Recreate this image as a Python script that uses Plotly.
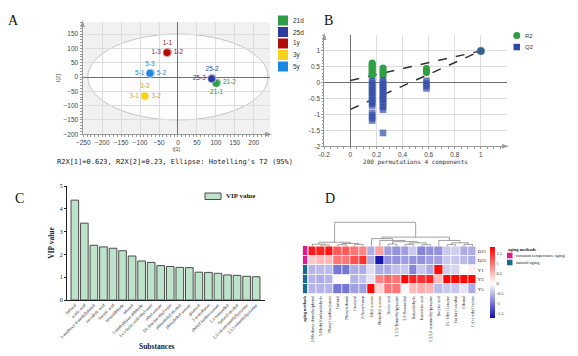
import plotly.graph_objects as go

W, H = 578, 356
def fx(p): return p / W
def fy(p): return 1 - p / H

SANS = "Liberation Sans"
SERIF = "Liberation Serif"
MONO = "DejaVu Sans Mono"

# ---------------- Panel A : PCA scores ----------------
pca_groups = ["21d", "25d", "1y", "3y", "5y"]
pca_colors = ["#2e9e48", "#2d3c9c", "#b00c0c", "#f5d31a", "#1c86e3"]
pca_text_colors = ["#3a8f4e", "#3a4690", "#a01818", "#c9a818", "#2a86d0"]
pca_labels = [["21-1", "21-2", "21-3"], ["25-1", "25-2", "25-3"], ["1-1", "1-2", "1-3"],
              ["3-1", "3-2", "3-3"], ["5-1", "5-2", "5-3"]]
pca_t1 = [[102, 103, 101], [91, 90, 89], [-28, -27, -29], [-87, -86, -88], [-73, -72, -74]]
pca_t2 = [[-21, -20, -22], [-5, -4, -6], [86, 86, 85], [-67, -67, -66], [14, 14, 13]]
pca_textpos = [["bottom center", "middle right", "middle left"],
               ["middle right", "top center", "middle left"],
               ["top center", "middle right", "middle left"],
               ["middle left", "middle right", "top center"],
               ["middle left", "middle right", "top center"]]
pca_hidden = ["21-3", "25-1"]
ellipse_a, ellipse_b = 238, 150
pca_ticks_x = [-250, -200, -150, -100, -50, 0, 50, 100, 150, 200]
pca_ticks_y = [-200, -150, -100, -50, 0, 50, 100, 150]

# ---------------- Panel B : permutation test ----------------
r2_x = [0.167] * 11 + [0.25] * 5 + [0.583] * 3 + [1.0]
r2_y = [0.62, 0.58, 0.54, 0.50, 0.46, 0.42, 0.38, 0.34, 0.30, 0.26, 0.22,
        0.46, 0.40, 0.34, 0.28, 0.23,
        0.45, 0.38, 0.32,
        1.0]
q2_x = [0.167] * 18 + [0.25] * 16 + [0.583] * 4 + [1.0]
q2_y = [0.06, 0.0, -0.06, -0.12, -0.18, -0.24, -0.30, -0.36, -0.42, -0.48, -0.54, -0.60, -0.66, -0.72,
        -0.95, -1.03, -1.11, -1.19,
        0.08, 0.02, -0.04, -0.10, -0.16, -0.22, -0.28, -0.34, -0.40, -0.46, -0.52, -0.60, -0.68, -0.76, -0.85,
        -1.58,
        0.06, -0.02, -0.10, -0.18,
        1.0]
r2_intercept, q2_intercept = 0.07, -0.84
perm_ticks_x = [-0.2, 0, 0.2, 0.4, 0.6, 0.8, 1]
perm_ticks_y = [-2, -1.5, -1, -0.5, 0, 0.5, 1]

# ---------------- Panel C : VIP values ----------------
vip_names = ["furfural", "acetic acid", "2-methoxy-4-methylphenol", "isovaleric acid", "butyric acid",
             "benzaldehyde", "ethanol", "5-methylfuran aldehyde", "L(-)-lactic acid ethyl ester",
             "ethyl acetate", "DL-leucine ethyl ester", "phenylethyl alcohol", "phenylethyl acetate",
             "guaiacol", "2-acetylfuran", "phenyl isothiocyanate", "2,3-butanediol", "furfuryl alcohol",
             "2,3,5,6-tetramethylpyrazine", "2,3,5-trimethylpyrazine"]
vip_values = [4.38, 3.37, 2.40, 2.33, 2.27, 2.16, 1.93, 1.71, 1.65, 1.51, 1.47, 1.43, 1.42,
              1.22, 1.21, 1.17, 1.10, 1.08, 1.04, 1.02]

# ---------------- Panel D : heatmap ----------------
hm_cols = ["2-Methoxy-4-methylphenol", "5-Methylfurfuraldehyde", "Phenyl isothiocyanate", "Furfural",
           "Phenylethanol", "Guaiacol", "2-Acetylfuran", "Ethyl acetate", "Phenethyl acetate",
           "Acetic acid", "2,3,5-Trimethylpyrazine", "2,3-Butanediol", "Benzaldehyde", "Isovaleric acid",
           "2,3,5,6-tetramethylpyrazine", "Butyric acid", "DL-Ethyl Leucine", "Furfuryl alcohol",
           "Ethanol", "L-(+)-ethyl lactate"]
hm_rows = ["D21", "D25", "Y1", "Y3", "Y5"]
hm_D21 = [1.7, 1.6, 1.7, 1.2, 1.2, 1.0, 0.9, -0.6, 0.7, -0.7, -0.8, -0.7, -0.4, -0.9, -0.8, -0.8, -0.4, -0.35, -0.6, -0.6]
hm_D25 = [0.4, 0.5, 0.5, 1.0, 1.0, 1.3, 1.5, -0.6, -1.7, -0.8, -0.8, -0.7, -0.8, -0.8, -0.7, -0.7, -0.4, -0.4, -0.5, -0.6]
hm_Y1 = [-0.55, -0.5, -0.5, -1.0, -1.0, -0.6, -0.6, -0.25, -0.6, -0.6, -0.45, -0.4, -0.9, -0.4, -0.6, 1.75, -0.35, -0.3, 0.0, 0.1]
hm_Y3 = [-0.55, -0.6, -0.55, 0.05, 0.0, -0.55, -0.45, -0.2, 0.9, 1.1, 1.0, 1.8, 1.6, 1.5, 1.6, 0.5, 1.8, 1.8, 1.8, 1.8]
hm_Y5 = [-0.55, -0.55, -0.55, -1.0, -1.0, -0.7, -0.7, 1.8, 0.3, 1.0, 1.0, 0.05, 0.5, 0.6, 0.55, -0.5, -0.4, -0.4, -0.2, -0.6]
hm_groups = ["constant temperature aging", "constant temperature aging", "natural aging", "natural aging", "natural aging"]
group_names = ["constant temperature aging", "natural aging"]
group_colors = ["#e6178d", "#1a6a8c"]
cb_ticks = [-1.5, -1, -0.5, 0, 0.5, 1, 1.5]
# column dendrogram merges: (left node, right node, height); leaves 0..19, new nodes 20..
dendro_merges = [(1, 2, 0.25), (0, 20, 0.4), (3, 4, 0.3), (5, 6, 0.35), (22, 23, 0.5), (21, 24, 0.7),
                 (9, 10, 0.4), (11, 12, 0.35), (13, 14, 0.3), (27, 28, 0.6), (26, 29, 0.8), (8, 30, 1.0),
                 (7, 31, 1.3), (16, 17, 0.3), (18, 19, 0.35), (33, 34, 0.6), (15, 35, 1.0), (32, 36, 1.55),
                 (25, 37, 4.0)]

fig = go.Figure()

# ---- A traces
for gi, g in enumerate(pca_groups):
    texts = [lab if lab not in pca_hidden else "" for lab in pca_labels[gi]]
    fig.add_trace(go.Scatter(
        x=pca_t1[gi], y=pca_t2[gi], mode="markers+text", text=texts,
        textposition=pca_textpos[gi], name=g,
        textfont=dict(family=SANS, size=6.5, color=pca_text_colors[gi]),
        marker=dict(size=8, color=pca_colors[gi], line=dict(width=0.5, color="white")),
        xaxis="x", yaxis="y", showlegend=False, cliponaxis=False))

# ---- B traces
fig.add_trace(go.Scatter(x=[0, 1], y=[r2_intercept, r2_y[-1]], mode="lines",
                         line=dict(color="#333333", width=1.5, dash="dash"),
                         xaxis="x2", yaxis="y2", showlegend=False))
fig.add_trace(go.Scatter(x=[0, 1], y=[q2_intercept, q2_y[-1]], mode="lines",
                         line=dict(color="#333333", width=1.5, dash="dash"),
                         xaxis="x2", yaxis="y2", showlegend=False))
fig.add_trace(go.Scatter(x=r2_x, y=r2_y, mode="markers", name="R2",
                         marker=dict(size=7, color="#2ea043", symbol="circle", line=dict(width=0)),
                         xaxis="x2", yaxis="y2", showlegend=False))
q2_symbols = ["square"] * (len(q2_y) - 1) + ["circle"]
q2_sizes = [6.5] * (len(q2_y) - 1) + [8]
fig.add_trace(go.Scatter(x=q2_x, y=q2_y, mode="markers", name="Q2",
                         marker=dict(size=q2_sizes, color="#2d4aa8", symbol=q2_symbols,
                                     line=dict(width=0.3, color="#8090d0")),
                         xaxis="x2", yaxis="y2", showlegend=False))

# ---- C bars
fig.add_trace(go.Bar(x=vip_names, y=vip_values, name="VIP value",
                     marker=dict(color="#bde3cb", line=dict(color="#4d4d4d", width=1)),
                     xaxis="x3", yaxis="y3", showlegend=False))

# ---- D heatmap
z = [hm_D21, hm_D25, hm_Y1, hm_Y3, hm_Y5]
fig.add_trace(go.Heatmap(
    z=z, x=hm_cols, y=hm_rows, xaxis="x4", yaxis="y4", xgap=0.8, ygap=0.8,
    zmin=-1.75, zmax=1.85,
    colorscale=[[0, "#1010b4"], [1.75 / 3.6, "#ffffff"], [1, "#ff0000"]],
    colorbar=dict(x=fx(489.5), xanchor="left", y=fy(247), yanchor="top", len=71 / H,
                  lenmode="fraction", thickness=5, outlinewidth=0, xpad=0, ypad=0,
                  tickvals=cb_ticks, ticktext=[f"{v:g}" for v in cb_ticks], ticks="",
                  tickfont=dict(family=SERIF, size=4.5, color="#333"))))
grp_index = [group_names.index(g) for g in hm_groups]
fig.add_trace(go.Heatmap(
    z=[[v] for v in grp_index], x=["<b>aging methods</b>"], y=hm_rows, xaxis="x5", yaxis="y5",
    zmin=0, zmax=1, ygap=0.8,
    colorscale=[[0, group_colors[0]], [0.5, group_colors[0]], [0.5, group_colors[1]], [1, group_colors[1]]],
    showscale=False))

# dendrogram
node_x = {i: float(i) for i in range(len(hm_cols))}
node_h = {i: 0.0 for i in range(len(hm_cols))}
dx, dy = [], []
for k, (l, r, h) in enumerate(dendro_merges):
    nid = len(hm_cols) + k
    dx += [node_x[l], node_x[l], node_x[r], node_x[r], None]
    dy += [node_h[l], h, h, node_h[r], None]
    node_x[nid] = (node_x[l] + node_x[r]) / 2
    node_h[nid] = h
fig.add_trace(go.Scatter(x=dx, y=dy, mode="lines", line=dict(color="#8a8a8a", width=0.8),
                         xaxis="x6", yaxis="y6", showlegend=False, hoverinfo="skip"))

# ---- axes
grid = "#dddddd"
axA = dict(showline=True, linecolor="#9a9a9a", linewidth=1, ticks="outside", ticklen=2,
           tickcolor="#9a9a9a", tickfont=dict(family=SANS, size=6.5, color="#444"),
           showgrid=True, gridcolor=grid, gridwidth=0.6, zeroline=True, zerolinecolor="#707070",
           zerolinewidth=1, mirror=False, automargin=False)
plain = dict(automargin=False, zeroline=False, showgrid=False)
fig.update_layout(
    template="none",
    xaxis=dict(axA, domain=[fx(82.5), fx(270)], range=[-252, 243], tickvals=pca_ticks_x,
               anchor="y", minor=dict(dtick=10, ticklen=1.5, tickcolor="#9a9a9a", ticks="outside", showgrid=False),
               title=dict(text="t[1]", font=dict(family=SANS, size=5.5, color="#444"), standoff=1)),
    yaxis=dict(axA, domain=[fy(134.3), fy(22)], range=[-200, 192], tickvals=pca_ticks_y,
               anchor="x", minor=dict(dtick=10, ticklen=1.5, tickcolor="#9a9a9a", ticks="outside", showgrid=False),
               title=dict(text="t[2]", font=dict(family=SANS, size=5.5, color="#444"), standoff=2)),
    xaxis2=dict(axA, domain=[fx(324.3), fx(506.7)], range=[-0.2, 1.198], tickvals=perm_ticks_x,
                ticktext=[f"{v:g}" for v in perm_ticks_x], anchor="y2",
                minor=dict(dtick=0.05, ticklen=1.5, tickcolor="#9a9a9a", ticks="outside", showgrid=False),
                title=dict(text="200 permutations 4 components", font=dict(family=MONO, size=6, color="#333"), standoff=1)),
    yaxis2=dict(axA, domain=[fy(146.3), fy(35)], range=[-2, 1.5], tickvals=perm_ticks_y,
                ticktext=[f"{v:g}" for v in perm_ticks_y], anchor="x2",
                minor=dict(dtick=0.1, ticklen=1.5, tickcolor="#9a9a9a", ticks="outside", showgrid=False)),
    xaxis3=dict(plain, domain=[fx(67), fx(265)], range=[-0.82, 19.93], anchor="y3", showline=True,
                linecolor="#222", linewidth=1, ticks="", tickangle=-45,
                tickfont=dict(family=SERIF, size=4.3, color="#222")),
    yaxis3=dict(plain, domain=[fy(300), fy(186)], range=[0, 5], anchor="x3", showline=True, linecolor="#222",
                linewidth=1, ticks="outside", ticklen=2, tickcolor="#222", dtick=1,
                tickfont=dict(family=SERIF, size=6, color="#222"),
                title=dict(text="<b>VIP value</b>", font=dict(family=SERIF, size=7.5, color="#222"), standoff=4)),
    xaxis4=dict(plain, domain=[fx(308.3), fx(476.7)], anchor="y4", tickangle=-90, ticks="",
                tickfont=dict(family=SERIF, size=4.2, color="#222"), showline=False),
    yaxis4=dict(plain, domain=[fy(294), fy(246)], anchor="x4", side="right", autorange="reversed", ticks="",
                tickfont=dict(family=SERIF, size=5, color="#222"), showline=False),
    xaxis5=dict(plain, domain=[fx(302.7), fx(307.3)], anchor="y5", tickangle=-90, ticks="",
                tickfont=dict(family=SERIF, size=4.2, color="#222"), showline=False),
    yaxis5=dict(plain, domain=[fy(294), fy(246)], anchor="x5", autorange="reversed", showticklabels=False,
                ticks="", showline=False),
    xaxis6=dict(plain, domain=[fx(308.3), fx(476.7)], range=[-0.5, 19.5], anchor="y6", visible=False),
    yaxis6=dict(plain, domain=[fy(246.5), fy(220.5)], range=[0, 4.3], anchor="x6", visible=False),
    bargap=0.2,
    width=W, height=H, margin=dict(l=0, r=0, t=0, b=0, autoexpand=False),
    paper_bgcolor="white", plot_bgcolor="white", showlegend=False,
)

shapes = []
# A background and ellipse
shapes.append(dict(type="rect", xref="x domain", yref="y domain", x0=0, x1=1, y0=0, y1=1,
                   fillcolor="#f1f1f1", line=dict(width=0), layer="below"))
shapes.append(dict(type="circle", xref="x", yref="y", x0=-ellipse_a, x1=ellipse_a, y0=-ellipse_b, y1=ellipse_b,
                   fillcolor="rgba(255,255,255,0.85)", line=dict(color="#c4c4c4", width=1), layer="below"))
# axis arrowheads
def arrow_right(tx, ty):
    return dict(type="path", xref="paper", yref="paper", fillcolor="#9a9a9a", line=dict(width=0),
                path=f"M {fx(tx)} {fy(ty)} L {fx(tx-7)} {fy(ty-2.2)} L {fx(tx-7)} {fy(ty+2.2)} Z")
def arrow_up(tx, ty):
    return dict(type="path", xref="paper", yref="paper", fillcolor="#9a9a9a", line=dict(width=0),
                path=f"M {fx(tx)} {fy(ty)} L {fx(tx-2.2)} {fy(ty+7)} L {fx(tx+2.2)} {fy(ty+7)} Z")
shapes += [arrow_right(272, 134.3), arrow_up(82.5, 20), arrow_right(509, 146.3), arrow_up(324.3, 33)]

# legend A swatches
legA_y = [20.5, 32, 43.5, 55, 66.5]
for c, yy in zip(pca_colors, legA_y):
    shapes.append(dict(type="rect", xref="paper", yref="paper", x0=fx(278), x1=fx(288),
                       y0=fy(yy + 5), y1=fy(yy - 5), fillcolor=c, line=dict(width=0)))
# legend B
shapes.append(dict(type="circle", xref="paper", yref="paper", x0=fx(513.3), x1=fx(520.3),
                   y0=fy(39), y1=fy(32), fillcolor="#2ea043", line=dict(width=0)))
shapes.append(dict(type="rect", xref="paper", yref="paper", x0=fx(513.5), x1=fx(520),
                   y0=fy(50.3), y1=fy(43.8), fillcolor="#2d4aa8", line=dict(width=0)))
# legend C
shapes.append(dict(type="rect", xref="paper", yref="paper", x0=fx(205), x1=fx(221),
                   y0=fy(199.5), y1=fy(193), fillcolor="#bde3cb", line=dict(color="#4d4d4d", width=1)))
# legend D
for c, yy in zip(group_colors, [255.5, 262.5]):
    shapes.append(dict(type="rect", xref="paper", yref="paper", x0=fx(507), x1=fx(512.5),
                       y0=fy(yy + 2.8), y1=fy(yy - 2.8), fillcolor=c, line=dict(width=0)))
fig.update_layout(shapes=shapes)

ann = []
def txt(x, y, s, size, family, color="#222", xanchor="center", angle=0):
    ann.append(dict(x=fx(x), y=fy(y), xref="paper", yref="paper", text=s, showarrow=False,
                    font=dict(family=family, size=size, color=color), xanchor=xanchor,
                    yanchor="middle", textangle=angle))
# panel letters
txt(13, 20, "A", 14, SERIF, "#111")
txt(328, 20, "B", 14, SERIF, "#111")
txt(19, 198, "C", 14, SERIF, "#111")
txt(330, 198, "D", 14, SERIF, "#111")
txt(55, 161.5, "R2X[1]=0.623, R2X[2]=0.23, Ellipse: Hotelling's T2 (95%)", 7, MONO, "#222", "left")
for g, yy in zip(pca_groups, legA_y):
    txt(291, yy, g, 6.5, SANS, "#333", "left")
txt(522.5, 35.5, "R2", 6, SANS, "#333", "left")
txt(522.5, 47, "Q2", 6, SANS, "#333", "left")
txt(224, 196.3, "<b>VIP value</b>", 7, SERIF, "#222", "left")
txt(157, 346, "<b>Substances</b>", 7.5, SERIF, "#222")
txt(506, 249.5, "<b>aging methods</b>", 4.5, SERIF, "#222", "left")
for gname, yy in zip(group_names, [255.5, 262.5]):
    txt(514, yy, gname, 4.5, SERIF, "#222", "left")
fig.update_layout(annotations=ann)

fig.write_html("out.html", config={"displayModeBar": False},
               post_script="document.body.style.margin='0px';document.body.style.padding='0px';")
